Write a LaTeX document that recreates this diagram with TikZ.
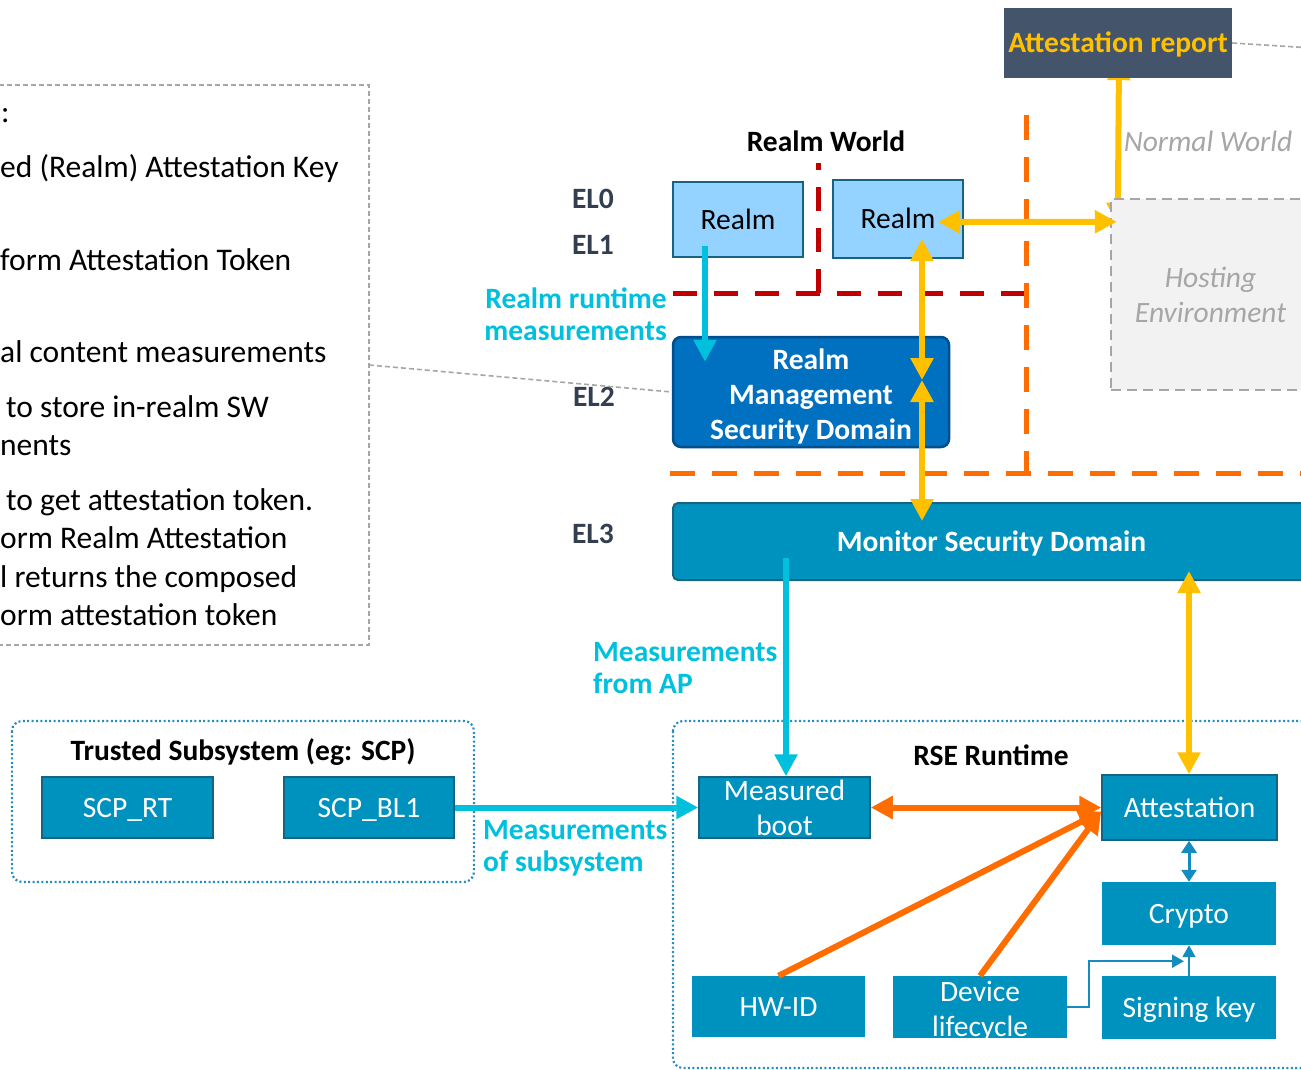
\documentclass[tikz,border=0pt]{standalone}
\usepackage{fontspec}
\setmainfont{Carlito}
\usetikzlibrary{arrows.meta,calc}

\definecolor{tealfill}{RGB}{0,146,191}
\definecolor{tealedge}{RGB}{22,100,130}
\definecolor{rmmfill}{RGB}{0,112,192}
\definecolor{rmmedge}{RGB}{0,78,140}
\definecolor{realmfill}{RGB}{148,210,255}
\definecolor{cyanC}{RGB}{0,192,222}
\definecolor{yellowC}{RGB}{255,192,0}
\definecolor{orangeC}{RGB}{255,108,0}
\definecolor{redC}{RGB}{192,0,0}
\definecolor{slateC}{RGB}{68,84,106}
\definecolor{grayT}{RGB}{166,166,166}
\definecolor{elC}{RGB}{51,63,80}
\definecolor{dotC}{RGB}{40,140,190}
\definecolor{hostfill}{RGB}{242,242,242}
\definecolor{linkC}{RGB}{20,140,190}

\newcommand\lblfont{\fontsize{29.5}{35}\selectfont}
\newcommand\twofont{\fontsize{29.5}{32}\selectfont}
\newcommand\notefont{\fontsize{31.5}{35}\selectfont}

\pgfdeclarelayer{back}
\pgfsetlayers{back,main}

\begin{document}
\begin{tikzpicture}[x=1pt,y=-1pt,
  box/.style={inner sep=0pt, align=center, font=\lblfont},
  oneline/.style={text height=20pt, text depth=0.6pt},
  tealbox/.style={box, fill=tealfill, draw=tealedge, line width=1.5pt, text=white},
  flatbox/.style={box, fill=tealfill, text=white},
  realmbox/.style={box, oneline, fill=realmfill, draw=tealedge, line width=2pt, text=black},
  lbl/.style={inner sep=0pt, align=center, font=\lblfont\bfseries},
  cyanlbl/.style={inner sep=0pt, text=cyanC, font=\twofont\bfseries},
  note/.style={inner sep=0pt, anchor=base west, font=\notefont},
  bigtip/.tip={Triangle[width=22pt,length=22pt]},
  smalltip/.tip={Triangle[width=15pt,length=12pt]},
  thintip/.tip={Triangle[width=13pt,length=12pt]},
  yarrow/.style={draw=yellowC, line width=6pt, {bigtip}-{bigtip}, yellowC},
  carrow/.style={draw=cyanC, line width=6pt, -{bigtip}, cyanC},
  oarrow/.style={draw=orangeC, line width=6pt, orangeC},
  barrow/.style={draw=linkC, line width=3pt, {smalltip}-{smalltip}, linkC},
  bthin/.style={draw=linkC, line width=2pt, -{thintip}, linkC},
  orangedash/.style={draw=orangeC, line width=5pt, dash pattern=on 25pt off 17pt},
  reddash/.style={draw=redC, line width=5pt, dash pattern=on 24pt off 17pt},
  graydash/.style={draw=grayT, line width=1.6pt, dash pattern=on 5pt off 3pt},
  dotbox/.style={draw=dotC, line width=2.2pt, dash pattern=on 2pt off 2.4pt, rounded corners=10pt}
]
\useasboundingbox (0,0) rectangle (1301,1069);
\clip (0,0) rectangle (1301,1069);

% note panel on the left
\draw[graydash] (-10,85) rectangle (369,645);
\coordinate (notebox-e) at (369,365);
\node[note] (n1) at (1,122) {:};
\node[note] (n2) at (0,177) {ed (Realm) Attestation Key};
\node[note] (n3) at (0,270) {form Attestation Token};
\node[note] (n4) at (0,362) {al content measurements};
\node[note] (n5) at (6,417) {to store in-realm SW};
\node[note] (n6) at (0,455) {nents};
\node[note] (n7) at (6,510) {to get attestation token.};
\node[note] (n8) at (0,548) {orm Realm Attestation};
\node[note] (n9) at (0,587) {l returns the composed};
\node[note] (n10) at (0,625) {orm attestation token};

% world boundaries
\draw[reddash] (673,293) -- (1026,293);
\draw[reddash] (818,293) -- (818,163);
\draw[orangedash] (1026,115) -- (1026,473);
\draw[orangedash] (670,473) -- (1310,473);

% containers
\draw[dotbox] (12,721) rectangle (474,882);
\draw[dotbox] (673,721) rectangle (1330,1068);

% labels
\node[lbl] (rw) at (826,141) {Realm World};
\node[lbl, text=elC] (el0) at (593,199) {EL0};
\node[lbl, text=elC] (el1) at (593,245) {EL1};
\node[lbl, text=elC] (el2) at (594,397) {EL2};
\node[lbl, text=elC] (el3) at (593,534) {EL3};
\node[cyanlbl, align=right, anchor=east] (rrm) at (667,314) {Realm runtime\\measurements};
\node[cyanlbl, align=left, anchor=west] (mfap) at (593,668) {Measurements\\from AP};
\node[cyanlbl, align=left, anchor=west] (mos) at (483,848) {Measurements\\of subsystem};
\node[inner sep=0pt, font=\lblfont\itshape, text=grayT] (nw) at (1208,141) {Normal World};
\node[lbl] (rse) at (991,755) {RSE Runtime};
\node[lbl] (ts) at (243,752) {Trusted Subsystem (eg: SCP)};

% top area boxes
\node[box, oneline, fill=slateC, text=yellowC, font=\lblfont\bfseries, minimum width=228pt, minimum height=70pt] (attrep) at (1118,43) {Attestation report};
\coordinate (offright) at (1312,48);
\draw[graydash] (attrep.east) -- (offright);
\node[box, fill=hostfill, draw=grayT, line width=2.5pt, dash pattern=on 10pt off 6pt, text=grayT, font=\lblfont\itshape, minimum width=199pt, minimum height=191pt] (hosting) at (1210.5,294.5) {Hosting\\Environment};
\node[realmbox, minimum width=130pt, minimum height=75pt] (realm1) at (738,219.5) {Realm};
\node[realmbox, minimum width=130pt, minimum height=78pt] (realm2) at (898,219) {Realm};
\node[box, fill=rmmfill, draw=rmmedge, line width=2.5pt, rounded corners=8pt, minimum width=276pt, minimum height=110pt] (rmm) at (811,392) {};
\node[box, text=white, font=\lblfont\bfseries] (rmmtext) at (811,396) {Realm\\Management\\Security Domain};
\draw[graydash] (notebox-e) -- (rmm.west);
\node[box, oneline, fill=tealfill, draw=tealedge, line width=2pt, rounded corners=5pt, text=white, font=\lblfont\bfseries, minimum width=637pt, minimum height=77pt] (monitor) at (991.5,541.5) {Monitor Security Domain};

% RSE and subsystem components
\node[tealbox, oneline, minimum width=171pt, minimum height=61pt] (scprt) at (127.5,807.5) {SCP\_RT};
\node[tealbox, oneline, minimum width=170pt, minimum height=61pt] (scpbl1) at (369,807.5) {SCP\_BL1};
\node[tealbox, minimum width=171pt, minimum height=61pt] (mboot) at (784.5,807.5) {Measured\\boot};
\node[tealbox, oneline, minimum width=175pt, minimum height=65pt] (attest) at (1189.5,807.5) {Attestation};
\node[flatbox, oneline, minimum width=174pt, minimum height=63pt] (crypto) at (1189,913.5) {Crypto};
\node[flatbox, oneline, minimum width=174pt, minimum height=63pt] (signkey) at (1189,1007.5) {Signing key};
\node[flatbox, oneline, minimum width=173pt, minimum height=61pt] (hwid) at (778.5,1006.5) {HW-ID};
\node[flatbox, minimum width=174pt, minimum height=62pt] (devlc) at (980,1007) {};
\node[box, text=white] (devlctext) at (980,1011) {Device\\lifecycle};

% connectors
\coordinate (ymid) at (922,380);
\draw[carrow] ([xshift=-33pt,yshift=12pt]realm1.south) -- ([xshift=-106pt,yshift=-26pt]rmm.north);
\draw[yarrow] ([xshift=24pt,yshift=20pt]realm2.south) -- (ymid);
\draw[yarrow] (ymid) -- ([xshift=-69.5pt,yshift=-19pt]monitor.north);
\draw[yarrow] ([xshift=-26pt,yshift=-3pt]realm2.east) -- ([xshift=7pt,yshift=-24pt]hosting.north west);
\begin{pgfonlayer}{back}
\draw[yarrow] ([xshift=1pt,yshift=20pt]attrep.south) -- ([xshift=8pt,yshift=-27pt]hosting.north west);
\end{pgfonlayer}
\draw[yarrow] ([xshift=197.5pt,yshift=10pt]monitor.south) -- ([xshift=-0.5pt]attest.north);
\draw[carrow] ([xshift=-205.5pt,yshift=23pt]monitor.south) -- ([xshift=1.5pt]mboot.north);
\draw[carrow] (scpbl1.east) -- (mboot.west);
\draw[oarrow, {bigtip}-{bigtip}] (mboot.east) -- (attest.west);
\draw[oarrow, -{bigtip}] (hwid.north) -- ([yshift=-4pt]attest.west);
\draw[oarrow, -{bigtip}] (devlc.north) -- ([yshift=-4pt]attest.west);
\draw[barrow] ([xshift=-0.5pt]attest.south) -- (crypto.north);
\draw[bthin] (signkey.north) -- (crypto.south);
\draw[bthin] (devlc.east) -- ++(22,0) |- ([xshift=-5pt,yshift=-16pt]crypto.south);
\end{tikzpicture}
\end{document}
